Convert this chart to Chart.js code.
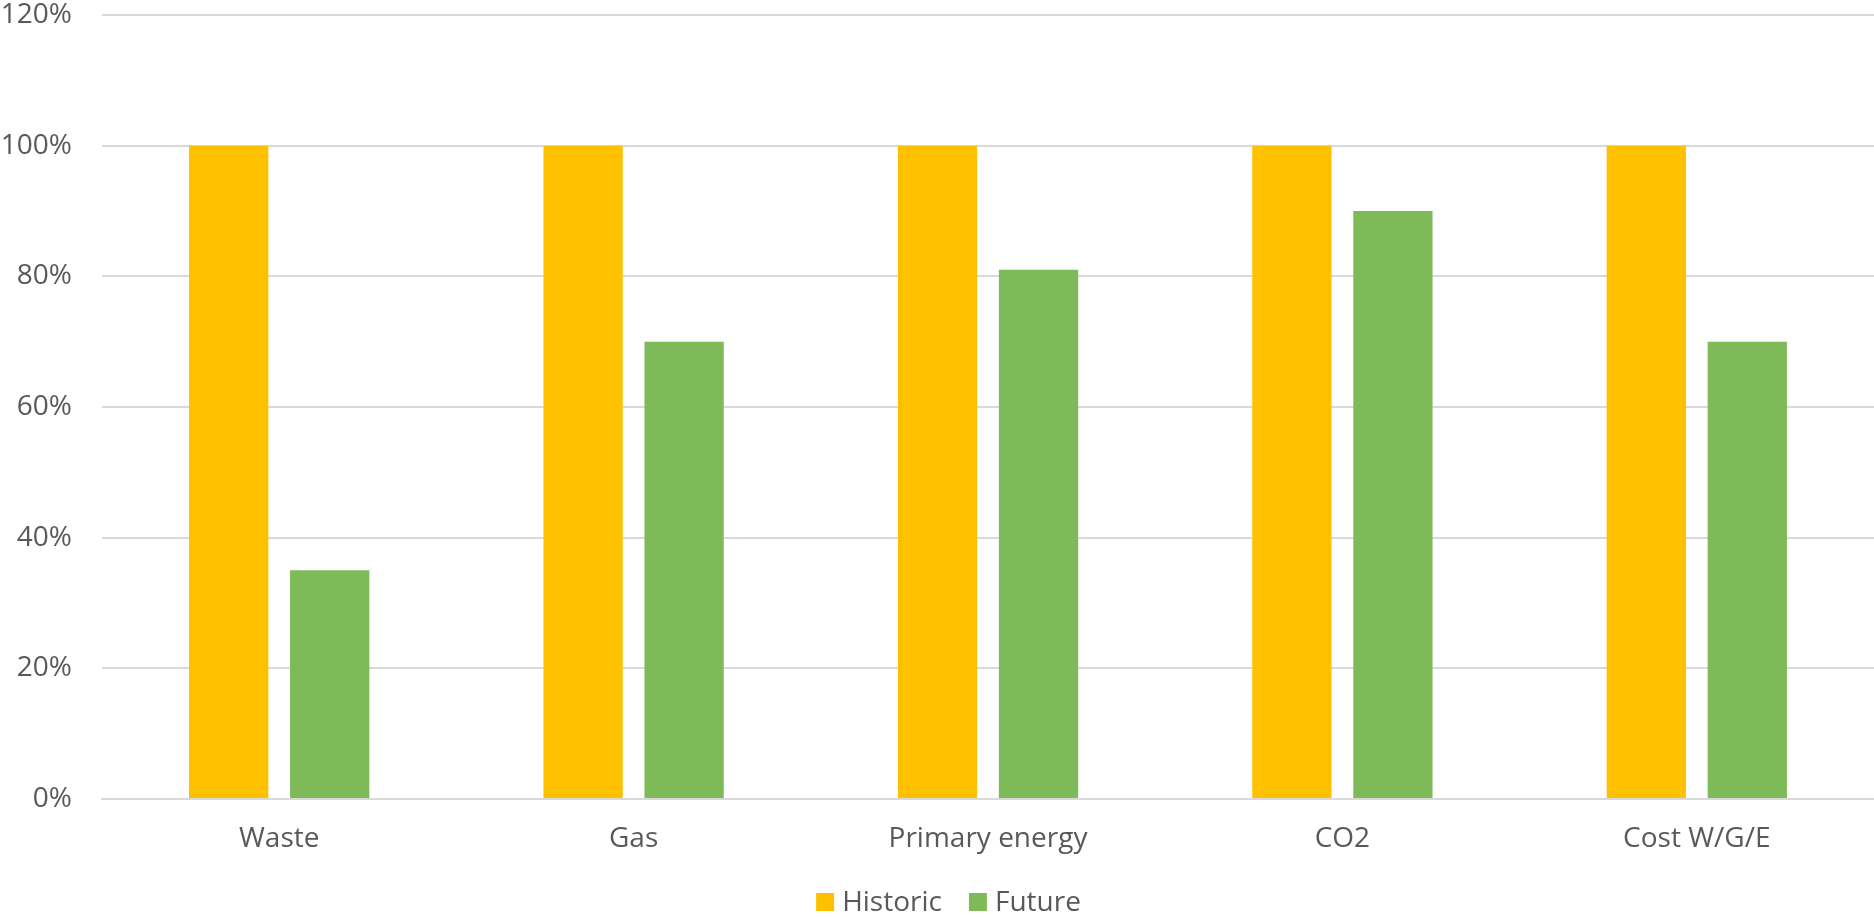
<!DOCTYPE html>
<html>
<head>
<meta charset="utf-8">
<title>Historic vs Future</title>
<script src="https://cdn.jsdelivr.net/npm/chart.js@4.4.1/dist/chart.umd.min.js"></script>
<style>
  html, body { margin: 0; padding: 0; background: #ffffff; }
  #wrap { width: 1874px; height: 917px; }
</style>
</head>
<body>
<div id="wrap"><canvas id="chart" width="1874" height="917"></canvas></div>
<script>
const categories = ['Waste', 'Gas', 'Primary energy', 'CO2', 'Cost W/G/E'];
const historic = [1.00, 1.00, 1.00, 1.00, 1.00];
const future = [0.35, 0.70, 0.81, 0.90, 0.70];
const seriesNames = ['Historic', 'Future'];
const seriesColors = ['#ffc000', '#7fba59'];

const textColor = '#595959';
const gridColor = '#d9d9d9';
const fontFamily = '"Open Sans", "Liberation Sans", sans-serif';
const fontSize = 28;

// Legend row drawn under the category labels: small square swatch, label, next item.
const bottomLegend = {
  id: 'bottomLegend',
  afterDraw(chart) {
    const ctx = chart.ctx;
    const box = 18, gapText = 8, gapItem = 27, centerY = 902;
    ctx.save();
    ctx.font = fontSize + 'px ' + fontFamily;
    ctx.textBaseline = 'middle';
    const items = chart.data.datasets.map(ds => ({
      label: ds.label, color: ds.backgroundColor, w: ctx.measureText(ds.label).width
    }));
    const total = items.reduce((s, it) => s + box + gapText + it.w, 0) + gapItem * (items.length - 1);
    let x = 948.5 - total / 2;
    items.forEach(it => {
      ctx.fillStyle = it.color;
      ctx.fillRect(x, centerY - box / 2, box, box);
      x += box + gapText;
      ctx.fillStyle = textColor;
      ctx.fillText(it.label, x, centerY + 1);
      x += it.w + gapItem;
    });
    ctx.restore();
  }
};

new Chart(document.getElementById('chart'), {
  type: 'bar',
  data: {
    labels: categories,
    datasets: [
      { label: seriesNames[0], data: historic, backgroundColor: seriesColors[0] },
      { label: seriesNames[1], data: future, backgroundColor: seriesColors[1] }
    ]
  },
  options: {
    responsive: false,
    animation: false,
    devicePixelRatio: 1,
    layout: { padding: { top: 15, right: 0, bottom: 0, left: 0 } },
    datasets: {
      bar: { categoryPercentage: 0.57, barPercentage: 0.785, borderWidth: 0 }
    },
    scales: {
      x: {
        afterFit: (scale) => { scale.height = 118; },
        grid: { display: false, drawTicks: false, tickLength: 0 },
        border: { display: true, color: gridColor, width: 2 },
        ticks: { color: textColor, font: { family: fontFamily, size: fontSize, lineHeight: 1.2 }, padding: 23, maxRotation: 0 }
      },
      y: {
        min: 0,
        max: 1.2,
        afterFit: (scale) => { scale.width = 102; scale.paddingTop = 0; scale.paddingBottom = 0; },
        grid: { color: gridColor, lineWidth: 2, drawTicks: false, tickLength: 0 },
        border: { display: false },
        ticks: {
          stepSize: 0.2,
          color: textColor,
          padding: 30,
          font: { family: fontFamily, size: fontSize, lineHeight: 1.0 },
          callback: (v) => Math.round(v * 100) + '%'
        }
      }
    },
    plugins: {
      legend: { display: false },
      tooltip: { enabled: false }
    }
  },
  plugins: [bottomLegend]
});
</script>
</body>
</html>
